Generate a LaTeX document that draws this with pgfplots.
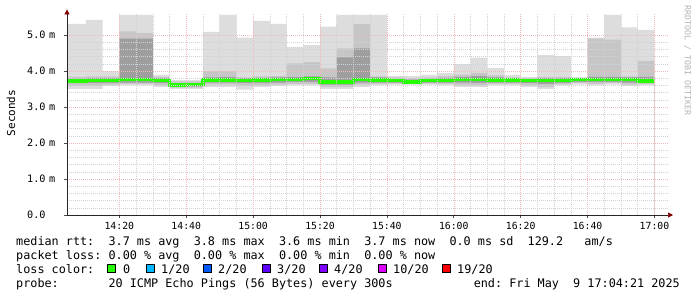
\documentclass[border=0pt]{standalone}
\usepackage{fontspec}
\setmainfont{DejaVu Sans Mono}
\newfontfamily\mono{DejaVu Sans Mono}
\usepackage{pgfplots}
\usepackage{pgfplotstable}
\pgfplotsset{compat=1.18}
\usetikzlibrary{arrows.meta}

\definecolor{smokeA}{HTML}{DDDDDD}
\definecolor{smokeB}{HTML}{C6C6C6}
\definecolor{smokeC}{HTML}{9E9E9E}
\definecolor{lossA}{HTML}{26FF00}
\definecolor{lossB}{HTML}{00B8FF}
\definecolor{lossC}{HTML}{0059FF}
\definecolor{lossD}{HTML}{5E00FF}
\definecolor{lossE}{HTML}{7E00FF}
\definecolor{lossF}{HTML}{DD00FF}
\definecolor{lossG}{HTML}{FF0000}
\definecolor{mgrid}{HTML}{F2B8B8}
\definecolor{ngrid}{HTML}{D2D2D2}
\definecolor{arrowred}{HTML}{800000}
\definecolor{wmark}{HTML}{B4B4B4}

\pgfplotstableread{
t     min  lo2  lo3  med  hi3  hi2  max
4.35  3.50 3.58 3.66 3.72 3.79 3.84 5.31
10    3.50 3.58 3.66 3.73 3.80 3.85 5.42
15    3.58 3.62 3.67 3.74 3.80 3.85 4.00
20    3.60 3.64 3.68 3.76 4.90 5.10 5.56
25    3.60 3.64 3.68 3.76 4.90 5.05 5.56
30    3.55 3.60 3.66 3.73 3.80 3.84 3.89
35    3.50 3.54 3.57 3.61 3.66 3.71 3.75
40    3.50 3.54 3.57 3.62 3.66 3.71 3.75
45    3.55 3.62 3.68 3.75 3.82 4.00 5.09
50    3.55 3.62 3.68 3.75 3.83 4.00 5.56
55    3.48 3.58 3.66 3.73 3.80 3.82 4.93
60    3.55 3.60 3.67 3.75 3.81 3.85 5.39
65    3.58 3.62 3.68 3.76 3.82 3.86 5.31
70    3.60 3.64 3.70 3.77 3.83 4.21 4.67
75    3.60 3.64 3.70 3.79 3.85 4.25 4.72
80    3.50 3.55 3.62 3.70 3.82 4.07 5.23
85    3.50 3.55 3.62 3.70 4.38 4.63 5.56
90    3.55 3.62 3.68 3.76 4.63 5.30 5.56
95    3.60 3.64 3.68 3.75 3.82 3.85 5.56
100   3.62 3.65 3.68 3.73 3.78 3.82 3.86
105   3.62 3.64 3.66 3.70 3.76 3.80 3.86
110   3.62 3.65 3.68 3.73 3.78 3.82 3.89
115   3.60 3.64 3.68 3.74 3.80 3.86 3.95
120   3.55 3.60 3.68 3.77 3.84 3.90 4.19
125   3.55 3.60 3.67 3.76 3.86 3.95 4.37
130   3.60 3.64 3.68 3.75 3.82 3.88 4.08
135   3.60 3.64 3.68 3.75 3.79 3.82 3.89
140   3.55 3.60 3.66 3.74 3.78 3.80 3.83
145   3.50 3.56 3.64 3.74 3.80 3.84 4.44
150   3.60 3.63 3.67 3.74 3.80 3.84 4.41
155   3.62 3.66 3.70 3.76 3.79 3.81 3.83
160   3.60 3.64 3.70 3.77 3.84 4.90 4.93
165   3.62 3.66 3.70 3.77 3.84 4.87 5.56
170   3.58 3.62 3.68 3.77 3.82 3.85 5.21
175   3.60 3.64 3.68 3.72 3.84 4.28 5.14
180   3.60 3.64 3.68 3.72 3.84 4.28 5.14
}\smoke

\begin{document}
\begin{tikzpicture}
\useasboundingbox (0,0) rectangle (697bp,-297bp);
\fill[white] (0,0) rectangle (697bp,-297bp);
\begin{axis}[
  at={(67bp,-215bp)}, anchor=south west,
  scale only axis, width=602bp, height=201.6bp,
  xmin=4.35, xmax=184.35, ymin=0, ymax=5.6,
  axis on top,
  axis lines=left,
  axis line style={black!85, line width=0.7bp},
  x axis line style={-{Triangle[length=5bp,width=5bp,color=arrowred]}, shorten >=-4bp},
  y axis line style={-{Triangle[length=5bp,width=5bp,color=arrowred]}, shorten >=-4bp},
  xtick={20,40,...,180},
  xticklabels={14:20,14:40,15:00,15:20,15:40,16:00,16:20,16:40,17:00},
  ytick={0,1,...,5},
  yticklabels={0.0,1.0 m,2.0 m,3.0 m,4.0 m,5.0 m},
  minor x tick num=3, minor y tick num=4,
  grid=both,
  major grid style={mgrid, line width=0.5bp, dash pattern=on 1bp off 1bp},
  minor grid style={ngrid, line width=0.5bp, dash pattern=on 1bp off 1bp},
  tick align=outside, major tick length=3bp, minor tick length=0pt,
  tick style={black!70, line width=0.6bp},
  xticklabel style={font=\mono\fontsize{9.8bp}{11bp}\selectfont, inner sep=0pt, anchor=north, yshift=-4bp},
  yticklabel style={font=\mono\fontsize{10.2bp}{11bp}\selectfont, inner sep=0pt, anchor=west, text width=31bp, align=left, xshift=-37bp},
]
\addplot[const plot mark left, fill=smokeA, draw=none] table[x=t, y=max] {\smoke} \closedcycle;
\addplot[const plot mark left, fill=smokeB, draw=none] table[x=t, y=hi2] {\smoke} \closedcycle;
\addplot[const plot mark left, fill=smokeC, draw=none] table[x=t, y=hi3] {\smoke} \closedcycle;
\addplot[const plot mark left, fill=smokeB, draw=none] table[x=t, y=lo3] {\smoke} \closedcycle;
\addplot[const plot mark left, fill=smokeA, draw=none] table[x=t, y=lo2] {\smoke} \closedcycle;
\addplot[const plot mark left, fill=white, draw=none] table[x=t, y=min] {\smoke} \closedcycle;
\addplot[const plot mark left, draw=lossA, line width=3.4bp, line join=miter] table[x=t, y=med] {\smoke};
\end{axis}

\node[rotate=90, font=\mono\fontsize{11bp}{12bp}\selectfont] at (11bp,-113bp) {Seconds};
\node[rotate=-90, anchor=west, inner sep=0pt, text=wmark, font=\mono\fontsize{8.3bp}{9bp}\selectfont] at (687.5bp,-5bp) {RRDTOOL / TOBI OETIKER};

\begin{scope}[every node/.style={anchor=base west, inner sep=0pt, font=\mono\fontsize{11.8bp}{13bp}\selectfont}]
\node at (16bp,-245bp) {median~rtt:~~3.7~ms~avg~~3.8~ms~max~~3.6~ms~min~~3.7~ms~now~~0.0~ms~sd~~129.2~~~am/s};
\node at (16bp,-259bp) {packet~loss:~0.00~\%~avg~~0.00~\%~max~~0.00~\%~min~~0.00~\%~now};
\node at (16bp,-273bp) {loss~color:};
\node at (123bp,-273bp) {0};
\node at (161bp,-273bp) {1/20};
\node at (218bp,-273bp) {2/20};
\node at (277bp,-273bp) {3/20};
\node at (334bp,-273bp) {4/20};
\node at (393bp,-273bp) {10/20};
\node at (457bp,-273bp) {19/20};
\node at (16bp,-287bp) {probe:~~~~~~~20~ICMP~Echo~Pings~(56~Bytes)~every~300s};
\node[anchor=base east] at (680bp,-287bp) {end:~Fri~May~~9~17:04:21~2025};
\end{scope}
\begin{scope}[line width=0.6bp]
\draw[fill=lossA] (107bp,-272bp) rectangle ++(8bp,8bp);
\draw[fill=lossB] (146bp,-272bp) rectangle ++(8bp,8bp);
\draw[fill=lossC] (203bp,-272bp) rectangle ++(8bp,8bp);
\draw[fill=lossD] (262bp,-272bp) rectangle ++(8bp,8bp);
\draw[fill=lossE] (319bp,-272bp) rectangle ++(8bp,8bp);
\draw[fill=lossF] (378bp,-272bp) rectangle ++(8bp,8bp);
\draw[fill=lossG] (442bp,-272bp) rectangle ++(8bp,8bp);
\end{scope}
\end{tikzpicture}
\end{document}
